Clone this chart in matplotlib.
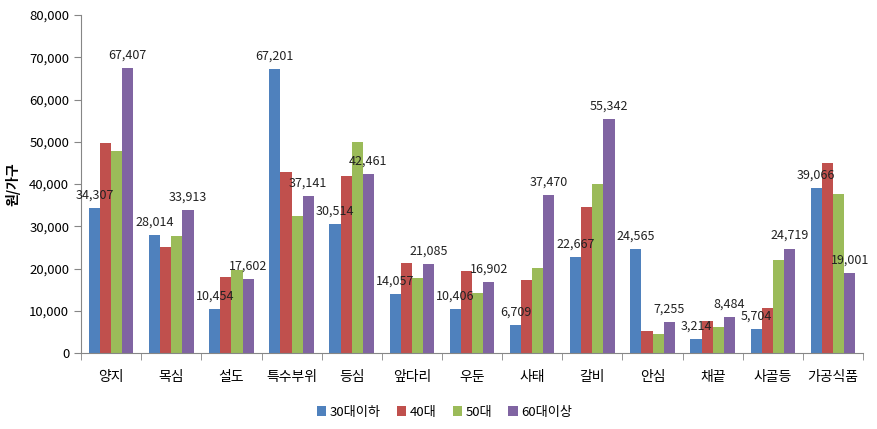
import numpy as np
import matplotlib.pyplot as plt
from matplotlib.ticker import FuncFormatter

plt.rcParams['font.family'] = ['Noto Sans CJK KR', 'DejaVu Sans']

categories = ['양지', '목심', '설도', '특수부위', '등심', '앞다리', '우둔',
              '사태', '갈비', '안심', '채끝', '사골등', '가공식품']
series_names = ['30대이하', '40대', '50대', '60대이상']

v30 = [34307, 28014, 10454, 67201, 30514, 14057, 10406, 6709, 22667, 24565, 3214, 5704, 39066]
v40 = [49700, 25000, 18000, 42800, 41900, 21300, 19400, 17400, 34600, 5200, 7600, 10600, 45000]
v50 = [47800, 27700, 19600, 32400, 49900, 17800, 14200, 20100, 40000, 4500, 6100, 22000, 37600]
v60 = [67407, 33913, 17602, 37141, 42461, 21085, 16902, 37470, 55342, 7255, 8484, 24719, 19001]

colors = ['#4F81BD', '#C0504D', '#9BBB59', '#8064A2']

fig = plt.figure(figsize=(8.78, 4.29), dpi=100)
ax = fig.add_axes([0.0923, 0.177, 0.8907, 0.788])

ind = np.arange(len(categories))
width = 0.185
allv = [v30, v40, v50, v60]
for k in range(4):
    ax.bar(ind + (k - 1.5) * width, allv[k], width, color=colors[k], label=series_names[k])

# 데이터 레이블: 30대이하, 60대이상만
for k in (0, 3):
    for i, v in enumerate(allv[k]):
        ax.annotate('{:,}'.format(v), (ind[i] + (k - 1.5) * width, v),
                    xytext=(0, 13), textcoords='offset pixels',
                    ha='center', va='center', fontsize=9, color='#222222')

ax.set_xlim(-0.5, len(categories) - 0.5)
ax.set_ylim(0, 80000)
ax.set_yticks(np.arange(0, 80001, 10000))
ax.yaxis.set_major_formatter(FuncFormatter(lambda x, p: '{:,}'.format(int(x))))
ax.set_xticks(ind)
ax.set_xticklabels(categories, fontsize=10)
ax.set_xticks(np.arange(-0.5, len(categories)), minor=True)
ax.tick_params(axis='x', which='major', length=0, pad=12)
ax.tick_params(axis='x', which='minor', length=5, color='#868686')
ax.tick_params(axis='y', length=5, color='#868686', labelsize=9.5)
for s in ('top', 'right'):
    ax.spines[s].set_visible(False)
for s in ('left', 'bottom'):
    ax.spines[s].set_color('#868686')

ax.set_ylabel('원/가구', fontsize=10, fontweight='bold', labelpad=6)

ax.legend(loc='upper center', bbox_to_anchor=(0.465, -0.12), ncol=4, frameon=False,
          fontsize=9.5, handlelength=0.7, handleheight=0.7, handletextpad=0.3, columnspacing=1.2)

fig.savefig('out.png', dpi=100)
